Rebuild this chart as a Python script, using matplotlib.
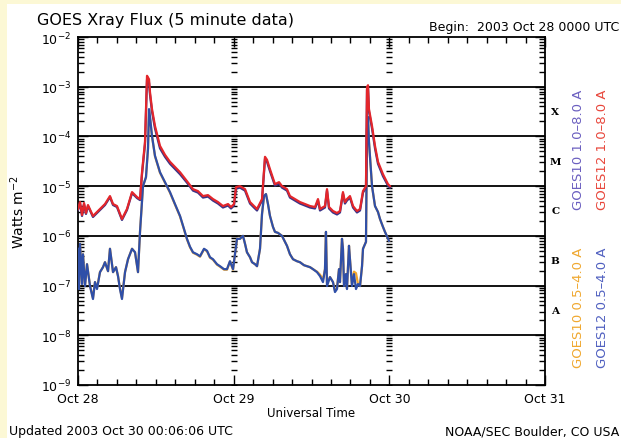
import numpy as np
import matplotlib.pyplot as plt
from matplotlib.patches import Rectangle

# time: hours after 2003 Oct 28 0000 UTC ; flux: log10(W m^-2)
long_hr = [0, 0.31, 0.62, 0.93, 1.23, 1.54, 2.31, 3.39, 4.16, 4.93, 5.40, 6.01, 6.78,
           7.55, 8.33, 9.10, 9.56, 9.87, 10.33, 10.64, 10.95, 11.10, 11.41, 11.87,
           12.64, 13.41, 14.18, 15.73, 16.80, 17.73, 18.50, 19.27, 20.04, 20.81,
           21.58, 22.35, 23.13, 23.59, 24.05, 24.36, 24.97, 25.75, 26.52, 27.13,
           27.60, 28.37, 28.83, 29.14, 29.60, 30.37, 30.99, 31.45, 32.22, 32.68,
           33.45, 34.22, 35.00, 35.77, 36.54, 37.00, 37.31, 38.08, 38.39, 38.70,
           39.31, 39.93, 40.39, 40.85, 41.16, 41.47, 41.93, 42.40, 43.01, 43.48,
           43.94, 44.40, 44.56, 44.71, 44.86, 45.33, 45.79, 46.25, 47.02, 47.79, 48.10]
long12_log = [-5.46, -5.32, -5.58, -5.34, -5.54, -5.38, -5.60, -5.46, -5.36, -5.20, -5.36,
              -5.40, -5.66, -5.46, -5.12, -5.22, -5.26, -4.72, -4.11, -2.78, -2.85, -3.11,
              -3.45, -3.79, -4.19, -4.37, -4.51, -4.72, -4.90, -5.06, -5.10, -5.20, -5.18,
              -5.26, -5.32, -5.40, -5.36, -5.42, -5.36, -5.02, -5.00, -5.06, -5.32, -5.40,
              -5.46, -5.26, -4.41, -4.47, -4.66, -4.96, -4.92, -5.00, -5.06, -5.20, -5.26,
              -5.32, -5.36, -5.40, -5.42, -5.26, -5.46, -5.40, -5.06, -5.42, -5.50, -5.54,
              -5.50, -5.12, -5.32, -5.26, -5.20, -5.40, -5.50, -5.46, -5.10, -5.00, -3.01,
              -2.97, -3.45, -3.79, -4.19, -4.51, -4.76, -4.96, -5.00]
long10_log = [-5.48, -5.34, -5.60, -5.36, -5.56, -5.40, -5.62, -5.48, -5.38, -5.22, -5.38,
              -5.42, -5.68, -5.48, -5.14, -5.24, -5.28, -4.76, -4.16, -2.86, -2.92, -3.16,
              -3.50, -3.84, -4.24, -4.41, -4.55, -4.76, -4.93, -5.09, -5.13, -5.23, -5.21,
              -5.29, -5.35, -5.43, -5.39, -5.45, -5.39, -5.05, -5.03, -5.09, -5.35, -5.43,
              -5.49, -5.29, -4.45, -4.51, -4.70, -4.99, -4.95, -5.03, -5.09, -5.23, -5.29,
              -5.35, -5.39, -5.43, -5.45, -5.29, -5.49, -5.43, -5.09, -5.45, -5.53, -5.57,
              -5.53, -5.15, -5.35, -5.29, -5.23, -5.43, -5.53, -5.49, -5.13, -5.03, -3.06,
              -3.02, -3.50, -3.84, -4.24, -4.55, -4.80, -4.99, -5.03]

short_hr = [0, 0.15, 0.31, 0.62, 0.77, 1.08, 1.39, 1.85, 2.31, 2.62, 2.93, 3.39, 3.85,
            4.16, 4.63, 4.93, 5.40, 5.86, 6.17, 6.47, 6.78, 7.25, 7.71, 8.33, 8.79,
            9.25, 9.56, 10.02, 10.48, 10.79, 10.95, 11.10, 11.41, 11.87, 12.64, 13.41,
            14.18, 14.95, 15.73, 16.34, 16.80, 17.27, 17.73, 18.35, 18.81, 19.43,
            19.89, 20.35, 20.81, 21.43, 21.89, 22.51, 22.97, 23.43, 23.90, 24.20,
            24.51, 24.97, 25.44, 25.75, 26.05, 26.52, 26.83, 27.29, 27.60, 28.06,
            28.37, 28.68, 28.98, 29.29, 29.60, 30.06, 30.37, 30.83, 31.45, 31.91,
            32.22, 32.68, 33.15, 33.76, 34.22, 34.84, 35.30, 35.77, 36.23, 36.85,
            37.31, 37.77, 38.08, 38.23, 38.39, 38.85, 39.31, 39.62, 39.93, 40.24,
            40.39, 40.70, 40.85, 41.01, 41.31, 41.47, 41.78, 41.93, 42.24, 42.55,
            42.86, 43.17, 43.48, 43.79, 43.94, 44.40, 44.56, 44.71, 44.86, 45.33,
            45.79, 46.25, 46.56, 47.02, 47.33, 47.95]
short12_log = [-6.26, -7.07, -6.16, -6.97, -6.37, -7.01, -6.57, -7.01, -7.27, -6.93, -7.07,
               -6.73, -6.63, -6.53, -6.71, -6.26, -6.73, -6.63, -6.81, -7.07, -7.27, -6.73,
               -6.47, -6.26, -6.33, -6.73, -5.92, -5.00, -4.82, -4.25, -3.45, -3.61, -3.99,
               -4.39, -4.72, -4.92, -5.12, -5.36, -5.60, -5.86, -6.06, -6.22, -6.33, -6.37,
               -6.41, -6.26, -6.30, -6.43, -6.47, -6.57, -6.61, -6.67, -6.67, -6.51, -6.67,
               -6.37, -6.06, -6.06, -6.00, -6.16, -6.33, -6.43, -6.53, -6.57, -6.61, -6.26,
               -5.56, -5.20, -5.16, -5.36, -5.60, -5.82, -5.92, -5.94, -6.00, -6.12, -6.20,
               -6.37, -6.47, -6.51, -6.53, -6.59, -6.61, -6.63, -6.67, -6.73, -6.81, -6.93,
               -6.67, -5.92, -7.01, -6.83, -6.93, -7.13, -7.07, -6.67, -6.93, -6.06, -6.26,
               -7.01, -6.77, -7.07, -6.20, -6.47, -7.01, -6.77, -7.07, -6.97, -7.01, -6.61,
               -6.26, -6.12, -3.85, -3.61, -4.11, -5.00, -5.40, -5.52, -5.66, -5.82, -5.92,
               -6.10]
short10_log = [-6.26, -7.05, -6.16, -6.95, -6.37, -7.00, -6.57, -7.00, -7.25, -6.93, -7.05,
               -6.73, -6.63, -6.53, -6.71, -6.26, -6.73, -6.63, -6.81, -7.05, -7.25, -6.73,
               -6.47, -6.26, -6.33, -6.73, -5.92, -5.00, -4.82, -4.25, -3.47, -3.62, -4.00,
               -4.40, -4.73, -4.93, -5.13, -5.37, -5.61, -5.87, -6.07, -6.23, -6.34, -6.38,
               -6.42, -6.27, -6.31, -6.44, -6.48, -6.58, -6.62, -6.68, -6.68, -6.52, -6.68,
               -6.37, -6.06, -6.06, -6.00, -6.16, -6.33, -6.43, -6.53, -6.57, -6.61, -6.26,
               -5.56, -5.20, -5.16, -5.36, -5.60, -5.82, -5.92, -5.94, -6.00, -6.12, -6.20,
               -6.37, -6.47, -6.51, -6.53, -6.59, -6.61, -6.63, -6.67, -6.72, -6.78, -6.88,
               -6.67, -5.92, -6.95, -6.83, -6.93, -7.10, -7.05, -6.67, -6.93, -6.06, -6.26,
               -6.98, -6.77, -7.05, -6.20, -6.47, -6.98, -6.72, -6.75, -6.97, -7.01, -6.61,
               -6.26, -6.12, -3.85, -3.61, -4.11, -5.00, -5.40, -5.52, -5.66, -5.82, -5.92,
               -6.10]

day_labels = ['Oct 28', 'Oct 29', 'Oct 30', 'Oct 31']
day_hr = [0, 24, 48, 72]
decades = [-9, -8, -7, -6, -5, -4, -3, -2]
class_labels = ['A', 'B', 'C', 'M', 'X']
class_log = [-7.5, -6.5, -5.5, -4.5, -3.5]

fig = plt.figure(figsize=(6.21, 4.39), dpi=100, facecolor='#fcf8d5')
fig.patches.append(Rectangle((7 / 621, 0), 1, 1 - 5 / 439, transform=fig.transFigure,
                             facecolor='white', edgecolor='none', zorder=-1))
ax = fig.add_axes([78 / 621, 1 - 386 / 439, 467 / 621, 348 / 439])

ax.plot(short_hr, 10 ** np.array(short10_log), color='#f2a52a', lw=1.6, zorder=2)
ax.plot(short_hr, 10 ** np.array(short12_log), color='#2f4fa8', lw=1.6, zorder=3)
ax.plot(long_hr, 10 ** np.array(long10_log), color='#3a3488', lw=1.6, zorder=4)
ax.plot(long_hr, 10 ** np.array(long12_log), color='#e3262b', lw=1.6, zorder=5)

ax.set_yscale('log')
ax.set_ylim(1e-9, 1e-2)
ax.set_xlim(0, 72)

# horizontal decade lines
for d in decades[1:-1]:
    ax.axhline(10.0 ** d, color='black', lw=1.3, zorder=1)

# little dash marks along the day boundaries
marks = [m * 10.0 ** d for d in decades[:-1] for m in range(1, 10)]
for h in day_hr[1:3]:
    ax.plot([h] * len(marks), marks, ls='none', marker='_', ms=5, mew=1.0,
            color='black', zorder=1)

ax.set_yticks([10.0 ** d for d in decades])
ax.set_yticklabels([r'$10^{%d}$' % d for d in decades])
ax.set_xticks(day_hr)
ax.set_xticklabels(day_labels)
ax.set_xticks(np.arange(0, 73, 3), minor=True)
ax.tick_params(which='both', direction='in', top=True, right=True, labelsize=9,
               width=1.0, color='black')
ax.tick_params(which='major', length=7, pad=5)
ax.tick_params(which='minor', length=4)
for s in ax.spines.values():
    s.set_linewidth(1.3)

ax.set_xlabel('Universal Time', fontsize=8.5, labelpad=1)
ax.set_ylabel(r'Watts m$^{-2}$', fontsize=10, labelpad=10)

for lab, v in zip(class_labels, class_log):
    ax.text(1.022, 10 ** v, lab, transform=ax.get_yaxis_transform(), fontsize=7.5,
            fontweight='bold', family='serif', ha='center', va='center')

fig.text(37 / 621, 1 - 21 / 439, 'GOES Xray Flux (5 minute data)', fontsize=11.5,
         va='center', ha='left')
fig.text(619 / 621, 1 - 28 / 439, 'Begin:  2003 Oct 28 0000 UTC', fontsize=9,
         va='center', ha='right')
fig.text(9 / 621, 1 - 432 / 439, 'Updated 2003 Oct 30 00:06:06 UTC', fontsize=9,
         va='center', ha='left')
fig.text(619 / 621, 1 - 432 / 439, 'NOAA/SEC Boulder, CO USA', fontsize=9,
         va='center', ha='right')

fig.text(579 / 621, 1 - 150 / 439, 'GOES10 1.0\u20138.0 A', color='#6b5fc0',
         fontsize=9.5, rotation=90, ha='center', va='center')
fig.text(602 / 621, 1 - 150 / 439, 'GOES12 1.0\u20138.0 A', color='#e8473c',
         fontsize=9.5, rotation=90, ha='center', va='center')
fig.text(579 / 621, 1 - 308 / 439, 'GOES10 0.5\u20134.0 A', color='#f0a830',
         fontsize=9.5, rotation=90, ha='center', va='center')
fig.text(602 / 621, 1 - 308 / 439, 'GOES12 0.5\u20134.0 A', color='#5060c0',
         fontsize=9.5, rotation=90, ha='center', va='center')

fig.savefig('out.png', dpi=100, facecolor=fig.get_facecolor())
